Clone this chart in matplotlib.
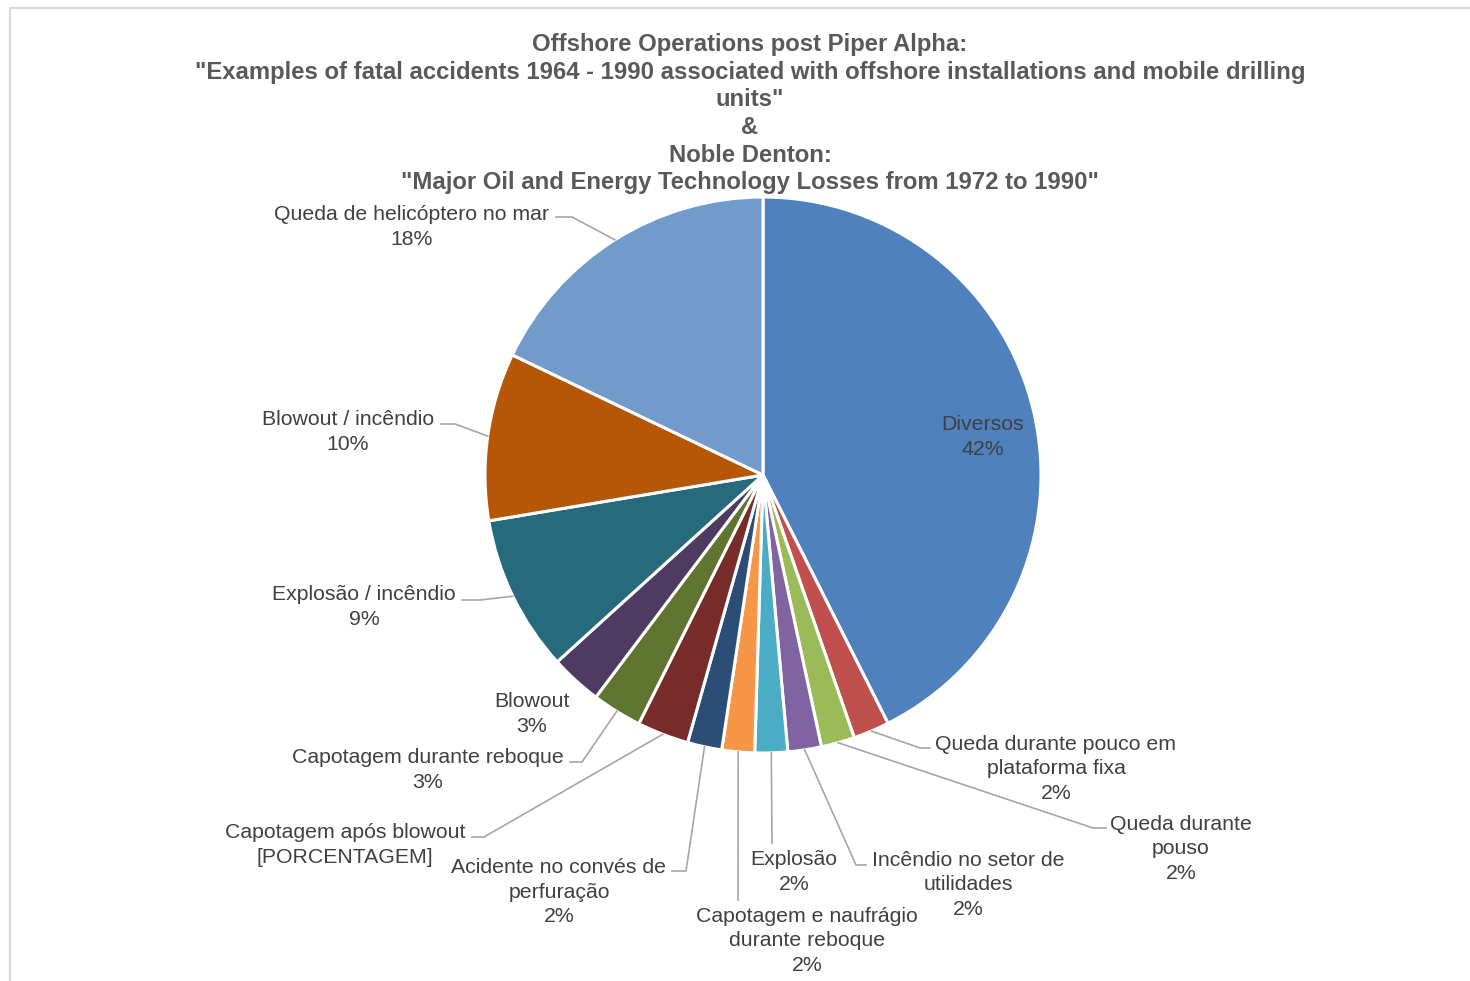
import matplotlib
matplotlib.use('Agg')
import matplotlib.pyplot as plt
from matplotlib.lines import Line2D
import numpy as np

plt.rcParams['font.family'] = ['Liberation Sans', 'DejaVu Sans']

# data (share of accidents, % of total)
categories = ['Diversos',
              'Queda durante pouco em\nplataforma fixa',
              'Queda durante\npouso',
              'Incêndio no setor de\nutilidades',
              'Explosão',
              'Capotagem e naufrágio\ndurante reboque',
              'Acidente no convés de\nperfuração',
              'Capotagem após blowout',
              'Capotagem durante reboque',
              'Blowout',
              'Explosão / incêndio',
              'Blowout / incêndio',
              'Queda de helicóptero no mar']
values = [42.6, 2.1, 1.95, 1.95, 1.9, 1.9, 2.0, 3.0, 2.9, 3.0, 9.1, 9.75, 17.9]
pct_labels = ['42%', '2%', '2%', '2%', '2%', '2%', '2%', '[PORCENTAGEM]',
              '3%', '3%', '9%', '10%', '18%']
colors = ['#4F81BD', '#C0504D', '#9BBB59', '#8064A2', '#4BACC6', '#F79646',
          '#2C4D75', '#772C2A', '#5F7530', '#4D3B62', '#276A7C', '#B65708',
          '#729ACA']

title_lines = ['Offshore Operations post Piper Alpha:',
               '"Examples of fatal accidents 1964 - 1990 associated with offshore installations and mobile drilling',
               'units"',
               '&',
               'Noble Denton:',
               '"Major Oil and Energy Technology Losses from 1972 to 1990"']

W, H = 1470, 981
fig = plt.figure(figsize=(W / 100, H / 100), dpi=100)
ax = fig.add_axes([0, 0, 1, 1])

def P(x, y):
    # pixel position (from top-left) -> axes data coords
    return x, H - y

cx, cy, R = 763, 475, 278
wedges, _ = ax.pie(values, colors=colors, startangle=90, counterclock=False,
                   radius=R, center=P(cx, cy),
                   wedgeprops=dict(edgecolor='white', linewidth=2.2))
ax.set_xlim(0, W)
ax.set_ylim(0, H)
ax.set_aspect('equal')
ax.axis('off')

# chart border (only left and top visible)
ax.add_line(Line2D([10, 10, W], [0, H - 8, H - 8], color='#D9D9D9', lw=1.5))

# title
ty = [45, 73, 100, 127, 155, 183]
for t, y in zip(title_lines, ty):
    ax.text(*P(750, y), t, ha='center', va='center', fontsize=17.2,
            fontweight='bold', color='#595959')

# label layout: (center x, center y of the text block, leader path after wedge edge)
layout = [
    (983, 437, None),
    (1056, 769, [(920, 748), (930, 748)]),
    (1181, 849, [(1093, 828), (1106, 828)]),
    (968, 885, [(856, 865), (866, 865)]),
    (794, 872, [(772, 843)]),
    (807, 941, [(738, 900)]),
    (559, 892, [(686, 871), (672, 871)]),
    (345, 845, [(484, 837), (472, 837)]),
    (428, 770, [(582, 762), (570, 762)]),
    (532, 714, None),
    (364, 607, [(480, 600), (462, 600)]),
    (348, 432, [(455, 424), (441, 424)]),
    (412, 227, [(572, 217), (556, 217)]),
]

for w, cat, pct, (lx, ly, path) in zip(wedges, categories, pct_labels, layout):
    ax.text(*P(lx, ly), cat + '\n' + pct, ha='center', va='center',
            fontsize=15.3, color='#404040', linespacing=1.36)
    if path:
        mid = np.deg2rad((w.theta1 + w.theta2) / 2)
        sx = cx + R * np.cos(mid)
        sy = cy - R * np.sin(mid)
        xs = [sx] + [p[0] for p in path]
        ys = [H - sy] + [H - p[1] for p in path]
        ax.add_line(Line2D(xs, ys, color='#A6A6A6', lw=1.2))

fig.savefig('out.png', dpi=100)
